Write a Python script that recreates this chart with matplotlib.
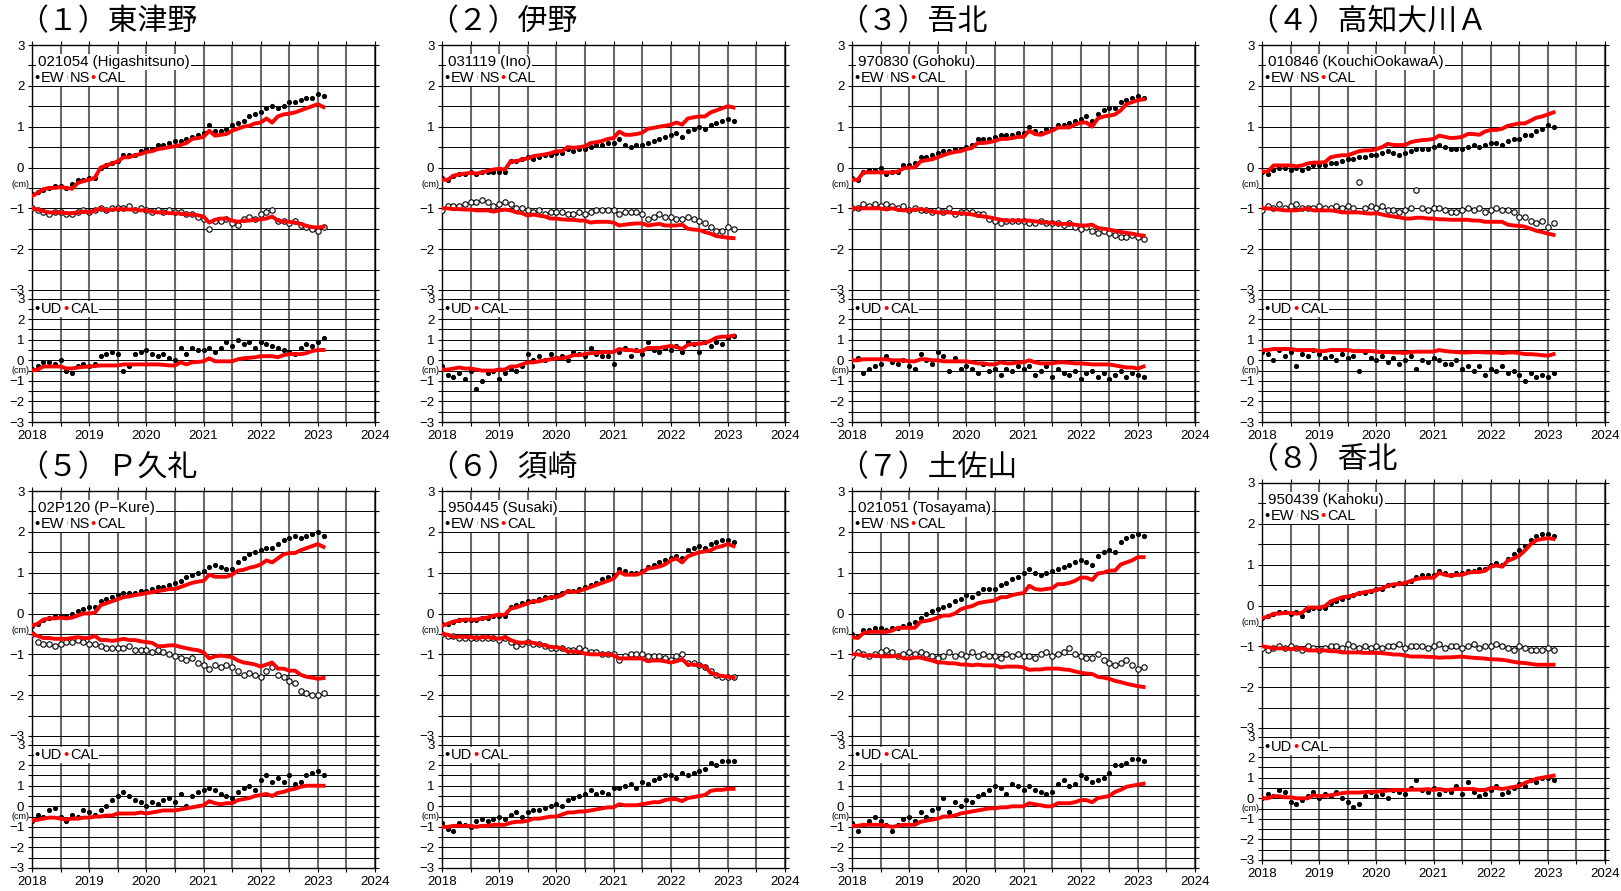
import numpy as np
import matplotlib.pyplot as plt

plt.rcParams['font.family'] = ['Liberation Sans', 'DejaVu Sans']

W, H = 1621, 891

# one sample every 0.1 yr, 2018.0 .. 2023.1
t = 2018 + np.arange(52) / 10

titles = ['（１）東津野', '（２）伊野', '（３）吾北', '（４）高知大川Ａ',
          '（５）Ｐ久礼', '（６）須崎', '（７）土佐山', '（８）香北']
stations = ['021054 (Higashitsuno)', '031119 (Ino)', '970830 (Gohoku)',
            '010846 (KouchiOokawaA)', '02P120 (P\u2212Kure)', '950445 (Susaki)',
            '021051 (Tosayama)', '950439 (Kahoku)']

# ── (1) Higashitsuno ──────────────────────────────────────────────────────────
ew1 = [-0.65,-0.6,-0.55,-0.5,-0.45,-0.45,-0.5,-0.4,-0.3,-0.3,
       -0.25,-0.25,0.0,0.05,0.1,0.15,0.3,0.3,0.3,0.4,
       0.45,0.45,0.55,0.55,0.6,0.65,0.65,0.7,0.75,0.8,
       0.85,1.05,0.9,0.9,0.95,1.05,1.1,1.15,1.25,1.3,
       1.35,1.45,1.5,1.45,1.5,1.6,1.6,1.65,1.7,1.7,
       1.8,1.75]
ew1_cal = [-0.7,-0.62,-0.53,-0.5,-0.5,-0.48,-0.5,-0.52,-0.38,-0.33,
           -0.3,-0.25,0.0,0.05,0.1,0.15,0.25,0.25,0.3,0.33,
           0.38,0.4,0.45,0.47,0.5,0.52,0.55,0.6,0.7,0.72,
           0.75,0.9,0.78,0.8,0.82,0.9,0.95,1.0,1.02,1.08,
           1.1,1.2,1.1,1.25,1.3,1.32,1.35,1.4,1.45,1.5,
           1.55,1.48]
ns1 = [-1.0,-1.05,-1.1,-1.15,-1.1,-1.1,-1.15,-1.15,-1.1,-1.05,
       -1.1,-1.05,-1.0,-1.05,-1.0,-1.0,-1.0,-0.95,-1.05,-1.0,
       -1.05,-1.1,-1.05,-1.1,-1.05,-1.1,-1.1,-1.15,-1.15,-1.2,
       -1.25,-1.5,-1.3,-1.3,-1.25,-1.35,-1.4,-1.25,-1.2,-1.25,
       -1.15,-1.1,-1.05,-1.3,-1.3,-1.35,-1.3,-1.4,-1.45,-1.5,
       -1.55,-1.45]
ns1_cal = [-1.0,-1.03,-1.07,-1.1,-1.1,-1.1,-1.12,-1.12,-1.1,-1.08,
           -1.1,-1.05,-1.0,-1.05,-1.03,-1.02,-1.02,-1.03,-1.03,-1.05,
           -1.05,-1.08,-1.1,-1.1,-1.12,-1.12,-1.13,-1.15,-1.15,-1.17,
           -1.2,-1.35,-1.28,-1.25,-1.25,-1.3,-1.33,-1.3,-1.3,-1.28,
           -1.27,-1.25,-1.2,-1.3,-1.32,-1.33,-1.35,-1.38,-1.43,-1.46,
           -1.47,-1.45]
ud1 = [-0.4,-0.3,-0.1,-0.1,-0.2,0.0,-0.5,-0.6,-0.3,-0.2,
       -0.3,-0.2,0.2,0.3,0.4,0.3,-0.5,-0.3,0.3,0.4,
       0.5,0.3,0.2,0.3,0.1,0.0,0.6,0.3,0.6,0.5,
       0.5,0.6,0.4,0.6,0.9,0.7,1.0,0.8,0.9,0.6,
       0.9,0.8,0.7,0.6,0.5,0.4,0.3,0.6,0.8,0.7,
       0.9,1.1]
ud1_cal = [-0.5,-0.45,-0.3,-0.3,-0.3,-0.3,-0.4,-0.4,-0.35,-0.32,
           -0.3,-0.28,-0.25,-0.25,-0.25,-0.25,-0.2,-0.2,-0.2,-0.2,
           -0.2,-0.2,-0.2,-0.22,-0.25,-0.25,-0.1,-0.2,-0.1,-0.08,
           -0.05,0.1,-0.05,-0.05,-0.05,-0.05,0.05,0.1,0.12,0.15,
           0.2,0.2,0.2,0.15,0.25,0.3,0.3,0.3,0.35,0.45,
           0.5,0.5]

# ── (2) Ino ───────────────────────────────────────────────────────────────────
ew2 = [-0.25,-0.3,-0.2,-0.15,-0.15,-0.1,-0.15,-0.1,-0.1,-0.1,
       -0.1,-0.1,0.15,0.15,0.2,0.25,0.2,0.25,0.3,0.3,
       0.35,0.35,0.45,0.4,0.45,0.45,0.5,0.55,0.55,0.6,
       0.6,0.7,0.55,0.5,0.55,0.55,0.6,0.65,0.7,0.75,
       0.8,0.85,0.75,0.9,0.95,1.0,0.95,1.05,1.1,1.15,
       1.2,1.15]
ew2_cal = [-0.3,-0.3,-0.2,-0.17,-0.15,-0.13,-0.15,-0.12,-0.08,-0.05,
           -0.03,-0.05,0.15,0.15,0.2,0.22,0.28,0.3,0.32,0.35,
           0.4,0.4,0.5,0.48,0.5,0.52,0.6,0.62,0.65,0.7,
           0.72,0.88,0.8,0.8,0.82,0.85,0.95,0.97,1.0,1.02,
           1.05,1.1,1.05,1.2,1.23,1.25,1.25,1.35,1.4,1.45,
           1.5,1.47]
ns2 = [-1.05,-0.95,-0.95,-0.95,-0.9,-0.85,-0.85,-0.8,-0.85,-0.95,
       -0.9,-0.85,-0.9,-1.0,-1.0,-1.05,-1.1,-1.05,-1.15,-1.1,
       -1.1,-1.1,-1.15,-1.15,-1.1,-1.15,-1.1,-1.05,-1.05,-1.05,
       -1.05,-1.15,-1.1,-1.1,-1.1,-1.15,-1.25,-1.2,-1.15,-1.2,
       -1.2,-1.25,-1.25,-1.2,-1.25,-1.3,-1.35,-1.45,-1.55,-1.55,
       -1.45,-1.5]
ns2_cal = [-1.0,-1.0,-1.02,-1.02,-1.03,-1.03,-1.05,-1.05,-1.05,-1.08,
           -1.05,-1.03,-1.05,-1.1,-1.12,-1.18,-1.15,-1.18,-1.2,-1.25,
           -1.25,-1.27,-1.28,-1.28,-1.3,-1.3,-1.35,-1.33,-1.33,-1.33,
           -1.35,-1.42,-1.4,-1.38,-1.37,-1.37,-1.42,-1.4,-1.38,-1.42,
           -1.42,-1.42,-1.4,-1.5,-1.52,-1.53,-1.58,-1.62,-1.68,-1.7,
           -1.72,-1.73]
ud2 = [-0.3,-0.7,-0.8,-0.6,-0.9,-0.5,-1.4,-1.0,-0.6,-0.5,
       -0.9,-0.6,-0.4,-0.5,-0.3,0.3,0.0,0.2,0.0,0.3,
       0.1,0.2,0.0,0.4,0.3,0.2,0.6,0.3,0.2,0.2,
       -0.2,0.4,0.6,0.2,0.5,0.3,0.9,0.5,0.4,0.6,
       0.5,0.7,0.4,0.9,0.8,0.4,0.9,0.7,0.9,0.8,
       1.1,1.2]
ud2_cal = [-0.45,-0.45,-0.4,-0.35,-0.4,-0.4,-0.45,-0.5,-0.5,-0.5,
           -0.45,-0.45,-0.3,-0.3,-0.2,-0.1,-0.1,-0.05,0.0,0.05,
           0.1,0.1,0.15,0.25,0.25,0.3,0.35,0.35,0.4,0.4,
           0.4,0.55,0.5,0.5,0.45,0.45,0.6,0.6,0.6,0.65,
           0.7,0.65,0.55,0.75,0.8,0.8,0.85,0.95,1.1,1.15,
           1.15,1.2]

# ── (3) Gohoku ────────────────────────────────────────────────────────────────
ew3 = [-0.25,-0.3,-0.1,-0.05,-0.05,0.0,-0.15,-0.1,-0.1,0.05,
       0.05,0.1,0.25,0.25,0.3,0.35,0.4,0.4,0.45,0.45,
       0.5,0.55,0.7,0.7,0.7,0.75,0.8,0.8,0.8,0.85,
       0.85,1.0,0.9,0.85,0.95,0.95,1.05,1.05,1.1,1.15,
       1.2,1.25,1.15,1.3,1.4,1.45,1.45,1.6,1.65,1.7,
       1.75,1.7]
ew3_cal = [-0.3,-0.3,-0.12,-0.12,-0.12,-0.12,-0.12,-0.12,-0.1,-0.02,
           0.0,0.0,0.15,0.18,0.2,0.25,0.3,0.35,0.38,0.4,
           0.45,0.48,0.6,0.6,0.62,0.65,0.7,0.7,0.72,0.75,
           0.75,0.9,0.82,0.8,0.85,0.9,0.98,0.98,0.98,1.05,
           1.1,1.1,1.0,1.2,1.25,1.27,1.3,1.4,1.55,1.6,
           1.65,1.67]
ns3 = [-1.0,-1.0,-0.9,-0.95,-0.9,-0.95,-0.9,-0.95,-1.0,-0.95,
       -1.05,-1.0,-1.05,-1.05,-1.1,-1.05,-1.1,-1.0,-1.15,-1.1,
       -1.1,-1.1,-1.15,-1.15,-1.25,-1.3,-1.35,-1.3,-1.3,-1.3,
       -1.3,-1.35,-1.35,-1.3,-1.35,-1.35,-1.35,-1.4,-1.35,-1.45,
       -1.5,-1.45,-1.55,-1.6,-1.55,-1.6,-1.65,-1.7,-1.7,-1.65,
       -1.7,-1.75]
ns3_cal = [-1.0,-1.0,-1.0,-1.0,-1.0,-1.0,-1.03,-1.0,-1.03,-1.05,
           -1.05,-1.03,-1.02,-1.05,-1.08,-1.1,-1.1,-1.1,-1.12,-1.12,
           -1.13,-1.15,-1.18,-1.2,-1.22,-1.25,-1.28,-1.3,-1.3,-1.3,
           -1.3,-1.3,-1.32,-1.33,-1.35,-1.35,-1.38,-1.38,-1.38,-1.4,
           -1.42,-1.42,-1.4,-1.48,-1.5,-1.52,-1.55,-1.58,-1.6,-1.62,
           -1.65,-1.67]
ud3 = [-0.3,0.1,-0.6,-0.4,-0.3,-0.2,0.2,-0.1,-0.2,0.0,
       -0.3,-0.4,0.3,0.0,-0.2,0.4,0.2,-0.5,0.1,-0.4,
       -0.3,-0.4,-0.6,-0.2,-0.5,-0.4,-0.7,-0.4,-0.5,-0.3,
       -0.4,-0.3,-0.7,-0.5,-0.3,-0.8,-0.4,-0.6,-0.7,-0.5,
       -0.9,-0.6,-0.5,-0.8,-0.6,-0.9,-0.7,-0.5,-0.8,-0.6,
       -0.7,-0.8]
ud3_cal = [0.0,0.0,0.05,0.05,0.05,0.05,0.05,0.0,0.0,0.0,
           -0.05,-0.05,0.05,0.05,0.0,0.0,-0.05,-0.05,-0.05,-0.05,
           -0.05,-0.1,-0.15,-0.15,-0.2,-0.2,-0.1,-0.15,-0.15,-0.1,
           -0.1,0.0,-0.1,-0.15,-0.15,-0.15,-0.1,-0.1,-0.12,-0.15,
           -0.15,-0.17,-0.2,-0.2,-0.2,-0.2,-0.25,-0.3,-0.35,-0.35,
           -0.4,-0.3]

# ── (4) KouchiOokawaA ─────────────────────────────────────────────────────────
ew4 = [-0.1,-0.15,-0.05,0.0,0.0,-0.05,0.0,-0.05,0.0,0.05,
       0.05,0.05,0.1,0.1,0.15,0.2,0.2,0.25,0.25,0.3,
       0.3,0.35,0.4,0.35,0.3,0.35,0.4,0.45,0.45,0.45,
       0.5,0.55,0.5,0.45,0.45,0.45,0.5,0.55,0.5,0.55,
       0.6,0.6,0.55,0.65,0.7,0.7,0.8,0.8,0.9,0.95,
       1.05,1.0]
ew4_cal = [-0.1,-0.1,0.05,0.05,0.05,0.05,0.03,0.05,0.1,0.12,
           0.12,0.13,0.25,0.28,0.3,0.3,0.35,0.4,0.42,0.42,
           0.45,0.5,0.58,0.55,0.55,0.55,0.62,0.65,0.67,0.68,
           0.7,0.78,0.75,0.72,0.73,0.75,0.82,0.82,0.8,0.88,
           0.92,0.92,0.95,1.02,1.05,1.08,1.08,1.15,1.22,1.25,
           1.3,1.35]
ns4 = [-1.05,-0.95,-1.0,-0.9,-1.0,-0.95,-0.9,-1.0,-1.0,-1.0,
       -0.95,-1.0,-1.0,-0.95,-1.0,-0.95,-1.0,-0.35,-1.0,-0.95,
       -1.0,-0.95,-1.05,-1.05,-1.1,-1.05,-1.0,-0.55,-1.0,-1.05,
       -1.0,-1.0,-1.05,-1.1,-1.1,-1.05,-1.0,-1.05,-1.0,-1.1,
       -1.05,-1.0,-1.05,-1.05,-1.1,-1.2,-1.2,-1.3,-1.35,-1.3,
       -1.45,-1.35]
ns4_cal = [-1.0,-1.0,-1.02,-1.03,-1.05,-1.05,-1.05,-1.03,-1.0,-1.05,
           -1.05,-1.05,-1.05,-1.07,-1.1,-1.1,-1.1,-1.1,-1.12,-1.13,
           -1.12,-1.15,-1.18,-1.2,-1.22,-1.25,-1.25,-1.23,-1.23,-1.25,
           -1.25,-1.27,-1.27,-1.28,-1.28,-1.28,-1.28,-1.3,-1.3,-1.33,
           -1.33,-1.33,-1.33,-1.4,-1.42,-1.43,-1.45,-1.5,-1.55,-1.58,
           -1.62,-1.65]
ud4 = [0.4,0.3,0.0,0.5,0.2,0.4,-0.3,0.3,0.2,0.5,
       0.3,0.1,0.2,0.0,0.3,0.1,0.2,-0.5,0.4,0.1,
       0.0,0.2,-0.1,0.1,-0.2,0.0,0.2,-0.4,0.0,-0.1,
       0.1,0.0,-0.2,-0.2,0.0,-0.4,-0.3,-0.5,-0.3,-0.7,
       -0.4,-0.5,-0.3,-0.6,-0.5,-0.7,-1.0,-0.6,-0.8,-0.7,
       -0.8,-0.6]
ud4_cal = [0.5,0.5,0.55,0.55,0.55,0.55,0.5,0.5,0.5,0.5,
           0.45,0.45,0.5,0.5,0.5,0.5,0.45,0.45,0.45,0.45,
           0.42,0.4,0.4,0.38,0.38,0.35,0.4,0.42,0.42,0.42,
           0.42,0.5,0.45,0.42,0.4,0.38,0.38,0.4,0.4,0.38,
           0.38,0.38,0.35,0.38,0.38,0.35,0.3,0.3,0.28,0.25,
           0.22,0.3]

# ── (5) P-Kure ────────────────────────────────────────────────────────────────
ew5 = [-0.3,-0.25,-0.15,-0.1,-0.05,-0.05,-0.05,0.0,0.05,0.1,
       0.15,0.15,0.3,0.35,0.4,0.45,0.5,0.5,0.5,0.55,
       0.55,0.6,0.65,0.65,0.7,0.75,0.8,0.9,0.95,1.0,
       1.05,1.15,1.2,1.15,1.1,1.1,1.25,1.35,1.45,1.5,
       1.55,1.6,1.6,1.7,1.8,1.85,1.9,1.85,1.9,1.95,
       2.0,1.9]
ew5_cal = [-0.3,-0.25,-0.15,-0.12,-0.12,-0.1,-0.12,-0.1,-0.05,0.0,
           0.0,0.02,0.2,0.25,0.3,0.35,0.4,0.42,0.45,0.47,
           0.5,0.52,0.55,0.57,0.6,0.6,0.65,0.7,0.75,0.78,
           0.8,0.95,0.9,0.9,0.9,0.95,1.05,1.07,1.12,1.15,
           1.2,1.3,1.25,1.35,1.45,1.48,1.48,1.55,1.6,1.65,
           1.7,1.63]
ns5 = [-0.5,-0.7,-0.75,-0.75,-0.8,-0.75,-0.7,-0.7,-0.65,-0.7,
       -0.75,-0.75,-0.8,-0.85,-0.85,-0.85,-0.85,-0.8,-0.9,-0.9,
       -0.9,-0.95,-0.9,-0.95,-1.0,-1.05,-1.1,-1.15,-1.1,-1.2,
       -1.25,-1.35,-1.25,-1.3,-1.25,-1.3,-1.4,-1.5,-1.45,-1.5,
       -1.55,-1.4,-1.3,-1.5,-1.55,-1.65,-1.7,-1.9,-1.95,-2.0,
       -2.0,-1.95]
ns5_cal = [-0.5,-0.55,-0.6,-0.6,-0.62,-0.62,-0.62,-0.6,-0.58,-0.6,
           -0.6,-0.55,-0.65,-0.65,-0.67,-0.65,-0.62,-0.65,-0.65,-0.68,
           -0.7,-0.72,-0.8,-0.8,-0.78,-0.78,-0.82,-0.85,-0.88,-0.9,
           -0.95,-1.1,-1.05,-1.03,-1.05,-1.07,-1.15,-1.2,-1.22,-1.25,
           -1.3,-1.25,-1.2,-1.35,-1.35,-1.4,-1.4,-1.5,-1.55,-1.57,
           -1.6,-1.58]
ud5 = [-0.7,-0.4,-0.5,-0.2,-0.1,-0.5,-0.7,-0.4,-0.5,-0.2,
       -0.3,-0.4,-0.2,0.0,0.3,0.5,0.7,0.5,0.3,0.2,
       0.0,0.2,0.1,0.3,0.4,0.2,0.6,0.0,0.5,0.7,
       0.8,0.9,0.8,0.6,0.5,0.4,0.7,0.9,1.0,0.8,
       1.3,1.5,1.2,1.4,1.2,1.5,1.1,1.2,1.5,1.6,
       1.7,1.5]
ud5_cal = [-0.7,-0.65,-0.6,-0.55,-0.55,-0.6,-0.65,-0.6,-0.6,-0.55,
           -0.55,-0.5,-0.5,-0.45,-0.45,-0.35,-0.35,-0.35,-0.35,-0.3,
           -0.35,-0.3,-0.25,-0.2,-0.2,-0.2,-0.15,-0.1,-0.05,0.0,
           0.05,0.25,0.15,0.1,0.15,0.15,0.3,0.35,0.4,0.5,
           0.55,0.6,0.5,0.65,0.7,0.8,0.85,0.95,1.0,1.0,
           1.0,1.0]

# ── (6) Susaki ────────────────────────────────────────────────────────────────
ew6 = [-0.25,-0.25,-0.2,-0.15,-0.15,-0.15,-0.15,-0.1,-0.1,-0.05,
       -0.05,-0.05,0.15,0.2,0.25,0.3,0.3,0.35,0.4,0.4,
       0.45,0.5,0.55,0.55,0.6,0.65,0.7,0.75,0.85,0.9,
       0.95,1.1,1.05,1.0,1.0,1.05,1.15,1.2,1.25,1.3,
       1.35,1.4,1.35,1.55,1.6,1.65,1.6,1.7,1.75,1.8,
       1.8,1.75]
ew6_cal = [-0.3,-0.25,-0.2,-0.17,-0.15,-0.15,-0.15,-0.12,-0.1,-0.05,
           -0.03,-0.03,0.12,0.15,0.2,0.25,0.3,0.3,0.35,0.4,
           0.4,0.45,0.55,0.52,0.55,0.6,0.65,0.7,0.75,0.8,
           0.85,1.02,0.95,0.95,0.95,1.0,1.1,1.12,1.15,1.2,
           1.3,1.35,1.25,1.4,1.45,1.5,1.52,1.55,1.62,1.65,
           1.7,1.65]
ns6 = [-0.5,-0.55,-0.55,-0.6,-0.6,-0.6,-0.6,-0.6,-0.6,-0.6,
       -0.65,-0.6,-0.7,-0.8,-0.75,-0.7,-0.75,-0.75,-0.8,-0.85,
       -0.85,-0.85,-0.9,-0.9,-0.85,-0.9,-0.95,-0.95,-1.0,-1.0,
       -1.0,-1.15,-1.05,-1.0,-1.0,-1.0,-1.05,-1.05,-1.05,-1.1,
       -1.15,-1.05,-1.0,-1.2,-1.2,-1.25,-1.3,-1.4,-1.5,-1.55,
       -1.55,-1.55]
ns6_cal = [-0.5,-0.52,-0.57,-0.57,-0.57,-0.58,-0.6,-0.58,-0.58,-0.6,
           -0.62,-0.58,-0.65,-0.7,-0.72,-0.7,-0.72,-0.75,-0.78,-0.82,
           -0.83,-0.85,-0.93,-0.93,-0.95,-0.98,-1.0,-1.0,-1.0,-1.0,
           -1.02,-1.1,-1.1,-1.1,-1.1,-1.1,-1.17,-1.15,-1.15,-1.17,
           -1.2,-1.17,-1.12,-1.25,-1.25,-1.27,-1.3,-1.45,-1.5,-1.53,
           -1.55,-1.57]
ud6 = [-0.8,-1.1,-1.2,-0.8,-0.9,-1.0,-0.7,-0.6,-0.7,-0.6,
       -0.5,-0.6,-0.4,-0.3,-0.5,-0.3,-0.2,-0.2,-0.1,0.0,
       0.1,0.0,0.3,0.4,0.5,0.6,0.8,0.6,0.7,0.6,
       0.9,0.9,1.0,1.1,0.9,1.2,1.1,1.3,1.4,1.5,
       1.5,1.4,1.6,1.5,1.6,1.7,1.8,2.1,2.0,2.2,
       2.2,2.2]
ud6_cal = [-1.0,-1.0,-0.95,-0.95,-0.95,-0.95,-1.0,-0.95,-0.95,-0.9,
           -0.9,-0.9,-0.8,-0.75,-0.75,-0.7,-0.6,-0.6,-0.55,-0.5,
           -0.5,-0.4,-0.3,-0.3,-0.25,-0.25,-0.2,-0.15,-0.1,-0.05,
           -0.05,0.1,0.05,0.05,0.05,0.1,0.15,0.2,0.2,0.3,
           0.35,0.35,0.25,0.4,0.45,0.5,0.55,0.75,0.8,0.8,
           0.85,0.85]

# ── (7) Tosayama ──────────────────────────────────────────────────────────────
ew7 = [-0.5,-0.55,-0.4,-0.4,-0.35,-0.35,-0.4,-0.35,-0.35,-0.3,
       -0.25,-0.2,-0.1,0.0,0.05,0.1,0.15,0.2,0.3,0.35,
       0.45,0.4,0.5,0.6,0.6,0.6,0.7,0.75,0.85,0.9,
       1.0,1.1,1.0,0.95,1.0,1.05,1.1,1.15,1.2,1.25,
       1.3,1.25,1.2,1.4,1.5,1.55,1.5,1.75,1.85,1.9,
       1.95,1.9]
ew7_cal = [-0.58,-0.6,-0.48,-0.45,-0.45,-0.45,-0.45,-0.42,-0.35,-0.35,
           -0.35,-0.35,-0.2,-0.18,-0.15,-0.1,-0.05,-0.05,0.0,0.1,
           0.15,0.18,0.25,0.28,0.3,0.32,0.4,0.4,0.45,0.48,
           0.5,0.68,0.6,0.58,0.6,0.62,0.72,0.72,0.75,0.8,
           0.88,0.88,0.82,0.98,1.0,1.05,1.05,1.2,1.25,1.3,
           1.38,1.38]
ns7 = [-1.05,-0.95,-1.0,-1.05,-1.0,-0.95,-0.9,-0.95,-1.05,-1.0,
       -0.95,-1.0,-0.95,-1.0,-1.05,-1.1,-1.05,-0.95,-1.05,-1.0,
       -1.05,-0.95,-1.05,-1.0,-1.05,-1.05,-1.1,-1.0,-1.05,-1.0,
       -1.05,-1.05,-1.1,-1.0,-0.95,-1.05,-1.0,-0.95,-0.85,-1.0,
       -1.05,-1.1,-1.1,-1.0,-1.15,-1.2,-1.25,-1.2,-1.15,-1.25,
       -1.35,-1.3]
ns7_cal = [-1.0,-1.0,-1.03,-1.03,-1.03,-1.05,-1.05,-1.05,-1.03,-1.1,
           -1.1,-1.08,-1.08,-1.12,-1.15,-1.2,-1.2,-1.22,-1.22,-1.25,
           -1.25,-1.27,-1.25,-1.27,-1.27,-1.27,-1.32,-1.3,-1.3,-1.3,
           -1.32,-1.38,-1.37,-1.37,-1.35,-1.35,-1.35,-1.37,-1.38,-1.42,
           -1.45,-1.47,-1.48,-1.55,-1.57,-1.6,-1.65,-1.68,-1.72,-1.75,
           -1.78,-1.8]
ud7 = [-0.8,-1.2,-0.9,-0.7,-0.5,-0.7,-0.9,-1.2,-0.9,-0.6,
       -0.5,-0.7,-0.3,-0.5,-0.2,-0.1,0.4,-0.3,0.2,0.0,
       0.3,0.2,0.5,0.6,0.8,1.0,0.9,0.6,1.1,1.0,
       0.8,1.0,0.8,0.7,0.6,0.7,1.1,1.3,1.0,1.1,
       1.5,1.4,1.2,1.3,1.4,1.6,2.0,2.0,2.1,2.3,
       2.3,2.2]
ud7_cal = [-0.95,-0.95,-0.9,-0.9,-0.9,-0.9,-0.95,-1.0,-0.95,-0.9,
           -0.9,-0.9,-0.75,-0.7,-0.65,-0.6,-0.5,-0.5,-0.45,-0.35,
           -0.3,-0.25,-0.2,-0.15,-0.1,-0.1,-0.05,-0.05,0.0,0.0,
           0.0,0.15,0.1,0.05,0.0,0.0,0.15,0.15,0.15,0.2,
           0.3,0.3,0.2,0.4,0.45,0.5,0.7,0.8,0.95,1.0,
           1.05,1.1]

# ── (8) Kahoku ────────────────────────────────────────────────────────────────
ew8 = [-0.3,-0.25,-0.2,-0.15,-0.15,-0.2,-0.15,-0.25,-0.1,-0.05,
       -0.05,-0.05,0.05,0.1,0.15,0.2,0.25,0.3,0.3,0.35,
       0.4,0.4,0.5,0.5,0.55,0.55,0.6,0.7,0.75,0.75,
       0.75,0.85,0.8,0.75,0.8,0.8,0.85,0.85,0.9,0.9,
       1.0,1.05,1.0,1.15,1.25,1.35,1.45,1.6,1.7,1.75,
       1.75,1.7]
ew8_cal = [-0.3,-0.28,-0.2,-0.2,-0.18,-0.18,-0.2,-0.18,-0.05,-0.05,
           -0.05,-0.02,0.1,0.15,0.2,0.22,0.25,0.3,0.33,0.35,
           0.38,0.42,0.48,0.52,0.52,0.55,0.6,0.65,0.67,0.68,
           0.68,0.8,0.75,0.73,0.75,0.75,0.8,0.82,0.82,0.85,
           0.95,0.98,0.95,1.1,1.15,1.22,1.35,1.5,1.6,1.63,
           1.65,1.63]
ns8 = [-1.05,-1.1,-1.05,-1.0,-1.05,-1.0,-1.05,-1.1,-1.0,-1.05,
       -1.1,-1.05,-1.0,-1.0,-1.05,-0.95,-1.0,-1.05,-1.0,-1.05,
       -1.0,-1.05,-1.0,-1.0,-0.95,-1.05,-1.0,-1.0,-1.0,-1.05,
       -1.0,-0.95,-1.05,-1.0,-1.0,-1.05,-1.0,-0.95,-1.05,-1.0,
       -1.0,-0.95,-1.0,-1.05,-1.1,-1.0,-1.05,-1.1,-1.1,-1.1,
       -1.05,-1.1]
ns8_cal = [-1.0,-1.02,-1.05,-1.05,-1.05,-1.07,-1.05,-1.05,-1.1,-1.1,
           -1.1,-1.1,-1.12,-1.12,-1.15,-1.15,-1.15,-1.15,-1.16,-1.16,
           -1.16,-1.17,-1.18,-1.2,-1.2,-1.22,-1.25,-1.25,-1.25,-1.26,
           -1.26,-1.28,-1.27,-1.27,-1.26,-1.25,-1.27,-1.28,-1.29,-1.3,
           -1.32,-1.32,-1.33,-1.35,-1.38,-1.4,-1.41,-1.43,-1.45,-1.45,
           -1.45,-1.45]
ud8 = [0.0,0.2,0.1,0.4,0.3,-0.2,-0.3,-0.1,0.1,0.3,
       0.0,0.2,0.1,0.3,0.0,-0.2,-0.4,-0.3,0.1,0.3,
       0.1,0.2,0.0,0.4,0.3,0.2,0.5,0.9,0.4,0.3,
       0.5,0.2,0.4,0.3,0.6,0.2,0.8,0.3,0.1,0.2,
       0.4,0.6,0.2,0.3,0.5,0.7,0.6,0.9,0.8,1.0,
       1.0,0.9]
ud8_cal = [0.0,0.0,0.1,0.1,0.05,0.05,0.0,0.0,0.0,0.15,
           0.1,0.12,0.15,0.2,0.25,0.28,0.28,0.28,0.3,0.32,
           0.32,0.35,0.38,0.4,0.4,0.4,0.42,0.42,0.42,0.45,
           0.4,0.45,0.4,0.42,0.45,0.45,0.45,0.45,0.4,0.4,
           0.5,0.5,0.45,0.5,0.55,0.6,0.75,0.85,0.95,1.0,
           1.05,1.1]

panels = [
    (ew1, ew1_cal, ns1, ns1_cal, ud1, ud1_cal),
    (ew2, ew2_cal, ns2, ns2_cal, ud2, ud2_cal),
    (ew3, ew3_cal, ns3, ns3_cal, ud3, ud3_cal),
    (ew4, ew4_cal, ns4, ns4_cal, ud4, ud4_cal),
    (ew5, ew5_cal, ns5, ns5_cal, ud5, ud5_cal),
    (ew6, ew6_cal, ns6, ns6_cal, ud6, ud6_cal),
    (ew7, ew7_cal, ns7, ns7_cal, ud7, ud7_cal),
    (ew8, ew8_cal, ns8, ns8_cal, ud8, ud8_cal),
]

# pixel layout: left edge of each frame and y-pixel of the "3" line of the upper frame
lefts = [32, 442, 852, 1262, 32, 442, 852, 1262]
tops = [45, 45, 45, 45, 491, 491, 491, 483]
FW = 343                 # 2018 -> 2024
UP_PX = 245 / 6          # px per cm, upper frame

fig = plt.figure(figsize=(W / 100, H / 100), dpi=100)


def px_axes(x0, y0, x1, y1):
    return fig.add_axes([x0 / W, 1 - y1 / H, (x1 - x0) / W, (y1 - y0) / H])


def style(ax, ylo, yhi, lower):
    ax.set_xlim(2018, 2024)
    ax.set_ylim(ylo, yhi)
    ax.set_axisbelow(True)
    xt = np.arange(2018, 2024.01, 0.5)
    ax.set_xticks(xt)
    ax.set_yticks(np.arange(-3, 4, 1))
    ax.set_yticks(np.arange(-2.5, 3, 1), minor=True)
    ax.grid(axis='x', color='#6a6a6a', lw=1.5)
    ax.grid(axis='y', which='both', color='black', lw=0.7)
    ax.tick_params(which='both', direction='out', length=3, width=0.8,
                   labelsize=9.5, pad=2.5, right=True,
                   top=not lower, bottom=lower)
    if lower:
        ax.set_xticklabels([str(int(v)) if v == int(v) else '' for v in xt])
        ax.spines['top'].set_visible(False)
    else:
        ax.set_xticklabels([])
        ax.spines['bottom'].set_visible(False)
    for s in ax.spines.values():
        s.set_linewidth(1.0)


def chain(ax, x, y, pieces):
    prev = None
    for s, c, f in pieces:
        kw = dict(color=c, fontsize=f, va='center', zorder=6,
                  bbox=dict(fc='white', ec='none', pad=0.7))
        if prev is None:
            prev = ax.text(x, y, s, ha='left', **kw)
        else:
            prev = ax.annotate(s, xy=(1, 0.5), xycoords=prev, xytext=(0.8, 0),
                               textcoords='offset points', ha='left', **kw)


for i, (ew, ew_cal, ns, ns_cal, ud, ud_cal) in enumerate(panels):
    x0, y3 = lefts[i], tops[i]
    lo_top = y3 + 6.12 * UP_PX
    # upper frame (EW / NS) reaches a little below -3, lower frame (UD) a little above 3
    ax1 = px_axes(x0, y3, x0 + FW, lo_top)
    style(ax1, -3.12, 3, lower=False)
    ax2 = px_axes(x0, lo_top, x0 + FW, y3 + 377)
    style(ax2, -3, 3.18, lower=True)

    ax1.plot(t, ew, 'o', ms=2.7, color='black', zorder=3)
    ax1.plot(t, ns, 'o', ms=3.9, mfc='white', mec='black', mew=0.8, zorder=3)
    ax1.plot(t, ew_cal, color='red', lw=2.8, zorder=4)
    ax1.plot(t, ns_cal, color='red', lw=2.8, zorder=4)

    ax2.plot(t, ud, 'o', ms=2.7, color='black', zorder=3)
    ax2.plot(t, ud_cal, color='red', lw=2.8, zorder=4)

    # station name and symbol key
    ax1.text(2018.1, 2.58, stations[i], fontsize=10.8, va='center', ha='left', zorder=6,
             bbox=dict(fc='white', ec='none', pad=1.0))
    chain(ax1, 2018.05, 2.2, [('•', 'black', 10.5), ('EW', 'black', 10.5),
                              ('ı', 'black', 6), ('NS', 'black', 10.5),
                              ('•', 'red', 10.5), ('CAL', 'black', 10.5)])
    chain(ax2, 2018.05, 2.48, [('•', 'black', 10.5), ('UD', 'black', 10.5),
                               ('•', 'red', 10.5), ('CAL', 'black', 10.5)])

    for ax, yc in ((ax1, -0.42), (ax2, -0.5)):
        ax.annotate('(cm)', xy=(0, yc), xycoords=('axes fraction', 'data'),
                    xytext=(-1.5, 0), textcoords='offset points',
                    ha='right', va='center', fontsize=6.5, annotation_clip=False)

    # panel title
    fig.text((x0 - 14) / W, 1 - (y3 - 23) / H, titles[i], fontsize=21.5,
             family=['Noto Sans CJK JP', 'DejaVu Sans'], ha='left', va='center')

fig.savefig('out.png', dpi=100)
